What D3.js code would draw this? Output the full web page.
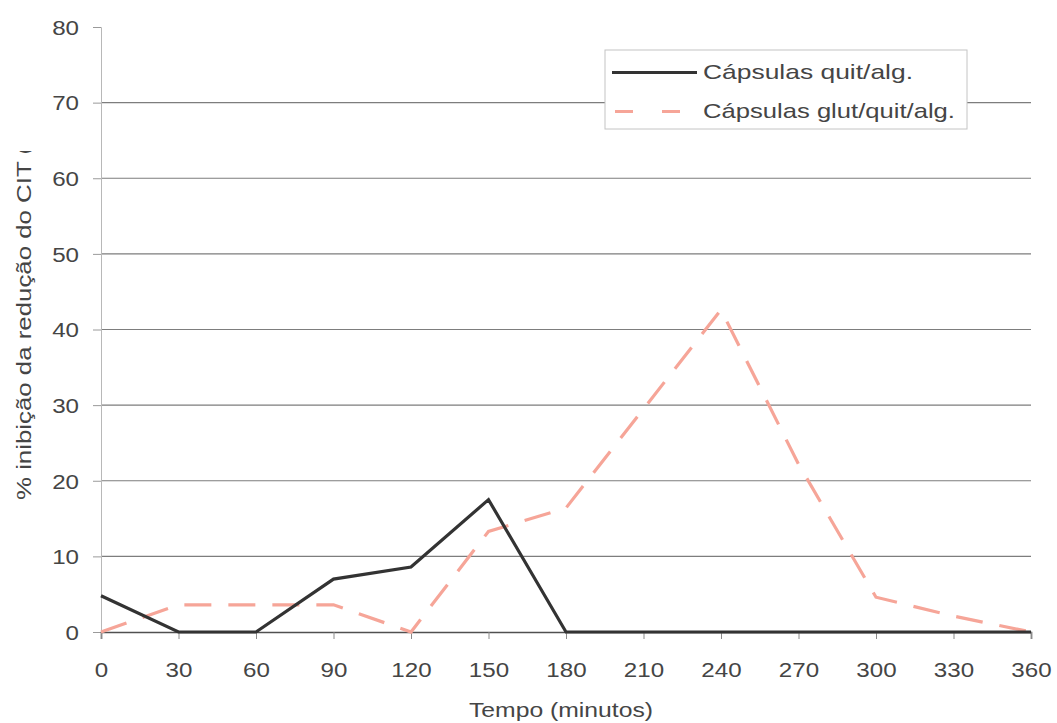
<!DOCTYPE html>
<html>
<head>
<meta charset="utf-8">
<script src="https://cdn.jsdelivr.net/npm/d3@7"></script>
<style>
  html, body { margin: 0; padding: 0; background: #fff; }
  svg { display: block; font-family: "Liberation Sans", Arial, sans-serif; }
</style>
</head>
<body>
<svg id="chart" width="1057" height="723"></svg>
<script>
// Time points (minutes)
const times = [0, 30, 60, 90, 120, 150, 180, 210, 240, 270, 300, 330, 360];
// % inhibition for each capsule type
const quitAlg = [4.8, 0, 0, 7, 8.6, 17.5, 0, 0, 0, 0, 0, 0, 0];
const glutQuitAlg = [0, 3.6, 3.6, 3.6, 0, 13.3, 16.4, 29.5, 42.6, 22.2, 4.6, 2.1, 0];
const seriesNames = ["Cápsulas quit/alg.", "Cápsulas glut/quit/alg."];
const xTicks = [0, 30, 60, 90, 120, 150, 180, 210, 240, 270, 300, 330, 360];
const yTicks = [0, 10, 20, 30, 40, 50, 60, 70, 80];

const svg = d3.select("#chart");
const plotLeft = 101, plotRight = 1031, plotTop = 27, plotBottom = 632;
const stretch = 1.15;          // wide glyph proportions of the labels
const fontPx = 21;

const x = d3.scaleLinear().domain([0, 360]).range([plotLeft, plotRight]);
const y = d3.scaleLinear().domain([0, 80]).range([plotBottom, plotTop]);

const textColor = "#454545";

// horizontal gridlines
svg.append("g")
  .selectAll("line")
  .data(yTicks.filter(v => v > 0 && v < 80))
  .join("line")
  .attr("x1", plotLeft).attr("x2", plotRight)
  .attr("y1", d => y(d)).attr("y2", d => y(d))
  .attr("stroke", "#7d7d7d").attr("stroke-width", 1.1);

// y axis
const yAxis = svg.append("g")
  .attr("transform", `translate(${plotLeft},0)`)
  .call(d3.axisLeft(y).tickValues(yTicks).tickSize(8).tickFormat(d3.format("d")));
yAxis.select(".domain").attr("stroke", "#b8b8b8").attr("stroke-width", 1);
yAxis.selectAll(".tick line").attr("stroke", "#9a9a9a");
yAxis.selectAll("text")
  .attr("fill", textColor)
  .attr("font-size", fontPx)
  .attr("x", -22 / stretch)
  .attr("dy", "0.35em")
  .attr("transform", `scale(${stretch},1)`);

// x axis
const xAxis = svg.append("g")
  .attr("transform", `translate(0,${plotBottom})`)
  .call(d3.axisBottom(x).tickValues(xTicks).tickSize(7).tickFormat(d3.format("d")));
xAxis.select(".domain").attr("stroke", "#505050").attr("stroke-width", 1.6);
xAxis.selectAll(".tick line").attr("stroke", "#8a8a8a");
xAxis.selectAll("text")
  .attr("fill", textColor)
  .attr("font-size", fontPx)
  .attr("y", 45).attr("dy", 0)
  .attr("transform", `scale(${stretch},1)`);

// axis titles
svg.append("text")
  .attr("x", 469).attr("y", 716.5)
  .attr("textLength", 184).attr("lengthAdjust", "spacingAndGlyphs")
  .attr("fill", textColor).attr("font-size", fontPx)
  .text("Tempo (minutos)");

svg.append("clipPath").attr("id", "ylabClip")
  .append("rect").attr("x", 0).attr("y", 151).attr("width", 60).attr("height", 500);
svg.append("g").attr("clip-path", "url(#ylabClip)")
  .append("text")
  .attr("transform", "translate(31,500) rotate(-90)")
  .attr("textLength", 354).attr("lengthAdjust", "spacingAndGlyphs")
  .attr("fill", textColor).attr("font-size", fontPx)
  .text("% inibição da redução do CIT (");

// series lines
const line = d3.line().x((d, i) => x(times[i])).y(d => y(d));

svg.append("path")
  .datum(glutQuitAlg)
  .attr("d", line)
  .attr("fill", "none")
  .attr("stroke", "#f6a598")
  .attr("stroke-width", 3.2)
  .attr("stroke-dasharray", "27,17");

svg.append("path")
  .datum(quitAlg)
  .attr("d", line)
  .attr("fill", "none")
  .attr("stroke", "#333")
  .attr("stroke-width", 3.2)
  .attr("stroke-linejoin", "miter");

// legend
const lg = svg.append("g");
lg.append("rect")
  .attr("x", 605).attr("y", 50).attr("width", 362).attr("height", 79)
  .attr("fill", "#fff").attr("stroke", "#c4c4c4").attr("stroke-width", 1);
lg.append("line")
  .attr("x1", 612).attr("x2", 697).attr("y1", 72.5).attr("y2", 72.5)
  .attr("stroke", "#333").attr("stroke-width", 3);
lg.append("line")
  .attr("x1", 615).attr("x2", 682).attr("y1", 111.5).attr("y2", 111.5)
  .attr("stroke", "#f6a598").attr("stroke-width", 3)
  .attr("stroke-dasharray", "18,29");
const legendWidths = [210, 252];
lg.selectAll("text.lbl")
  .data(seriesNames)
  .join("text")
  .attr("class", "lbl")
  .attr("x", 703)
  .attr("y", (d, i) => i === 0 ? 78.5 : 118)
  .attr("textLength", (d, i) => legendWidths[i])
  .attr("lengthAdjust", "spacingAndGlyphs")
  .attr("fill", textColor).attr("font-size", fontPx)
  .text(d => d);
</script>
</body>
</html>
